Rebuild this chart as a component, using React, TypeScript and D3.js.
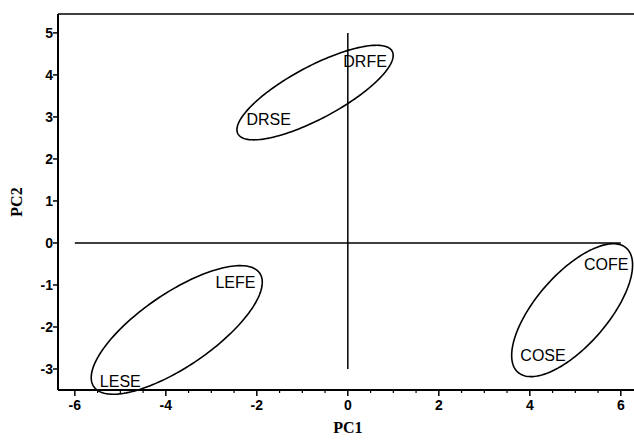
import React from 'react'
import * as d3 from 'd3'

// group ellipses in PC space: centre, semi axes, tilt (deg)
const groups = ['DR', 'LE', 'CO']
const centreX = [-0.72, -3.76, 4.93]
const centreY = [3.58, -2.07, -1.6]
const semiMajor = [1.96, 2.27, 1.9]
const semiMinor = [0.61, 0.85, 0.81]
const tilt = [30.5, 37.2, 52.2]

// sample labels
const labels = ['DRFE', 'DRSE', 'LEFE', 'LESE', 'COFE', 'COSE']
const labelX = [0.38, -1.74, -2.47, -5.0, 5.68, 4.29]
const labelY = [4.32, 2.93, -0.93, -3.29, -0.52, -2.67]

const xTicks = [-6, -4, -2, 0, 2, 4, 6]
const yTicks = [-3, -2, -1, 0, 1, 2, 3, 4, 5]

export default function App() {
  const width = 634
  const height = 443
  const left = 58, right = 634, top = 14, bottom = 390

  const x = d3.scaleLinear().domain([-6.37, 6.29]).range([left, right])
  const y = d3.scaleLinear().domain([-3.5, 5.45]).range([bottom, top])

  const minor = d3.range(-6, 6.01, 0.5).filter(v => !xTicks.includes(v))

  const line = d3.line<[number, number]>()
    .x(d => x(d[0]))
    .y(d => y(d[1]))
    .curve(d3.curveLinearClosed)

  const ellipsePath = (i: number) => {
    const th = (tilt[i] * Math.PI) / 180
    const pts: [number, number][] = d3.range(0, 2 * Math.PI, Math.PI / 90).map(t => {
      const u = semiMajor[i] * Math.cos(t)
      const v = semiMinor[i] * Math.sin(t)
      return [centreX[i] + u * Math.cos(th) - v * Math.sin(th), centreY[i] + u * Math.sin(th) + v * Math.cos(th)]
    })
    return line(pts) || ''
  }

  const tickFont = { fontFamily: 'Liberation Sans, Arial, sans-serif', fontSize: 14, fontWeight: 700 }

  return (
    <svg width={width} height={height} style={{ position: 'absolute', left: 0, top: 0, background: '#fff' }}>
      {/* frame */}
      <line x1={left} x2={right} y1={top} y2={top} stroke="#000" strokeWidth={1.5} />
      <line x1={left} x2={left} y1={top} y2={bottom} stroke="#000" strokeWidth={2} />
      <line x1={left} x2={right} y1={bottom} y2={bottom} stroke="#000" strokeWidth={2} />

      {/* reference axes */}
      <line x1={x(-6)} x2={x(6)} y1={y(0)} y2={y(0)} stroke="#000" strokeWidth={1.5} />
      <line x1={x(0)} x2={x(0)} y1={y(5)} y2={y(-3)} stroke="#000" strokeWidth={1.5} />

      {/* x ticks */}
      {xTicks.map(t => (
        <g key={'xt' + t}>
          <line x1={x(t)} x2={x(t)} y1={bottom} y2={bottom + 6} stroke="#000" strokeWidth={1.5} />
          <text x={x(t)} y={bottom + 20} textAnchor="middle" {...tickFont}>{t}</text>
        </g>
      ))}
      {minor.map(t => (
        <line key={'xm' + t} x1={x(t)} x2={x(t)} y1={bottom} y2={bottom + 3} stroke="#000" strokeWidth={1.2} />
      ))}

      {/* y ticks */}
      {yTicks.map(t => (
        <g key={'yt' + t}>
          <line x1={left - 5} x2={left} y1={y(t)} y2={y(t)} stroke="#000" strokeWidth={1.5} />
          <text x={left - 5} y={y(t) + 5} textAnchor="end" {...tickFont}>{t}</text>
        </g>
      ))}

      {/* axis titles */}
      <text x={x(0)} y={433} textAnchor="middle" fontFamily="Liberation Serif, Times New Roman, serif" fontWeight={700} fontSize={16}>PC1</text>
      <text transform={`translate(22,${(top + bottom) / 2}) rotate(-90)`} textAnchor="middle" fontFamily="Liberation Serif, Times New Roman, serif" fontWeight={700} fontSize={16}>PC2</text>

      {/* ellipses */}
      {groups.map((g, i) => (
        <path key={g} d={ellipsePath(i)} fill="none" stroke="#000" strokeWidth={1.6} />
      ))}

      {/* labels */}
      {labels.map((l, i) => (
        <text key={l} x={x(labelX[i])} y={y(labelY[i]) + 5.5} textAnchor="middle" fontFamily="Liberation Sans, Arial, sans-serif" fontSize={16}>{l}</text>
      ))}
    </svg>
  )
}
